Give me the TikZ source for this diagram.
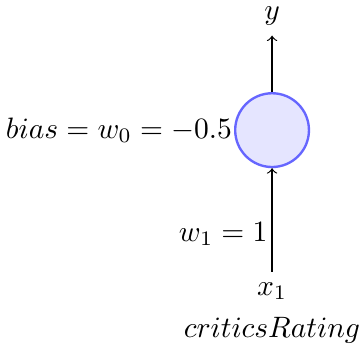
\documentclass[tikz,border=0pt]{standalone}
\begin{document}
\begin{tikzpicture}[neuron/.style={circle, thick, draw=blue!60, fill=blue!10, minimum size=25pt}]
  \useasboundingbox (-92.2pt,-73.6pt) rectangle (29.8pt,44.1pt);

  % unit
  \node[neuron] (unit) at (0,0) {};

  % output
  \node[anchor=base] (out) at (0,37.5pt) {$y$};
  \draw[->] (unit) -- (out);

  % input
  \node[anchor=base] (in) at (0,-55.9pt) {$x_1$};
  \node[anchor=base] (feature) at (0,-70.2pt) {$criticsRating$};
  \draw[->] (in) -- (unit);

  % labels
  \node[anchor=base east, inner sep=0pt] (weight) at (-1.4pt,-37.6pt) {$w_1 = 1$};
  \node[anchor=east, inner sep=0.5pt] (bias) at (unit.west) {$bias = w_0 = -0.5$};
\end{tikzpicture}
\end{document}
